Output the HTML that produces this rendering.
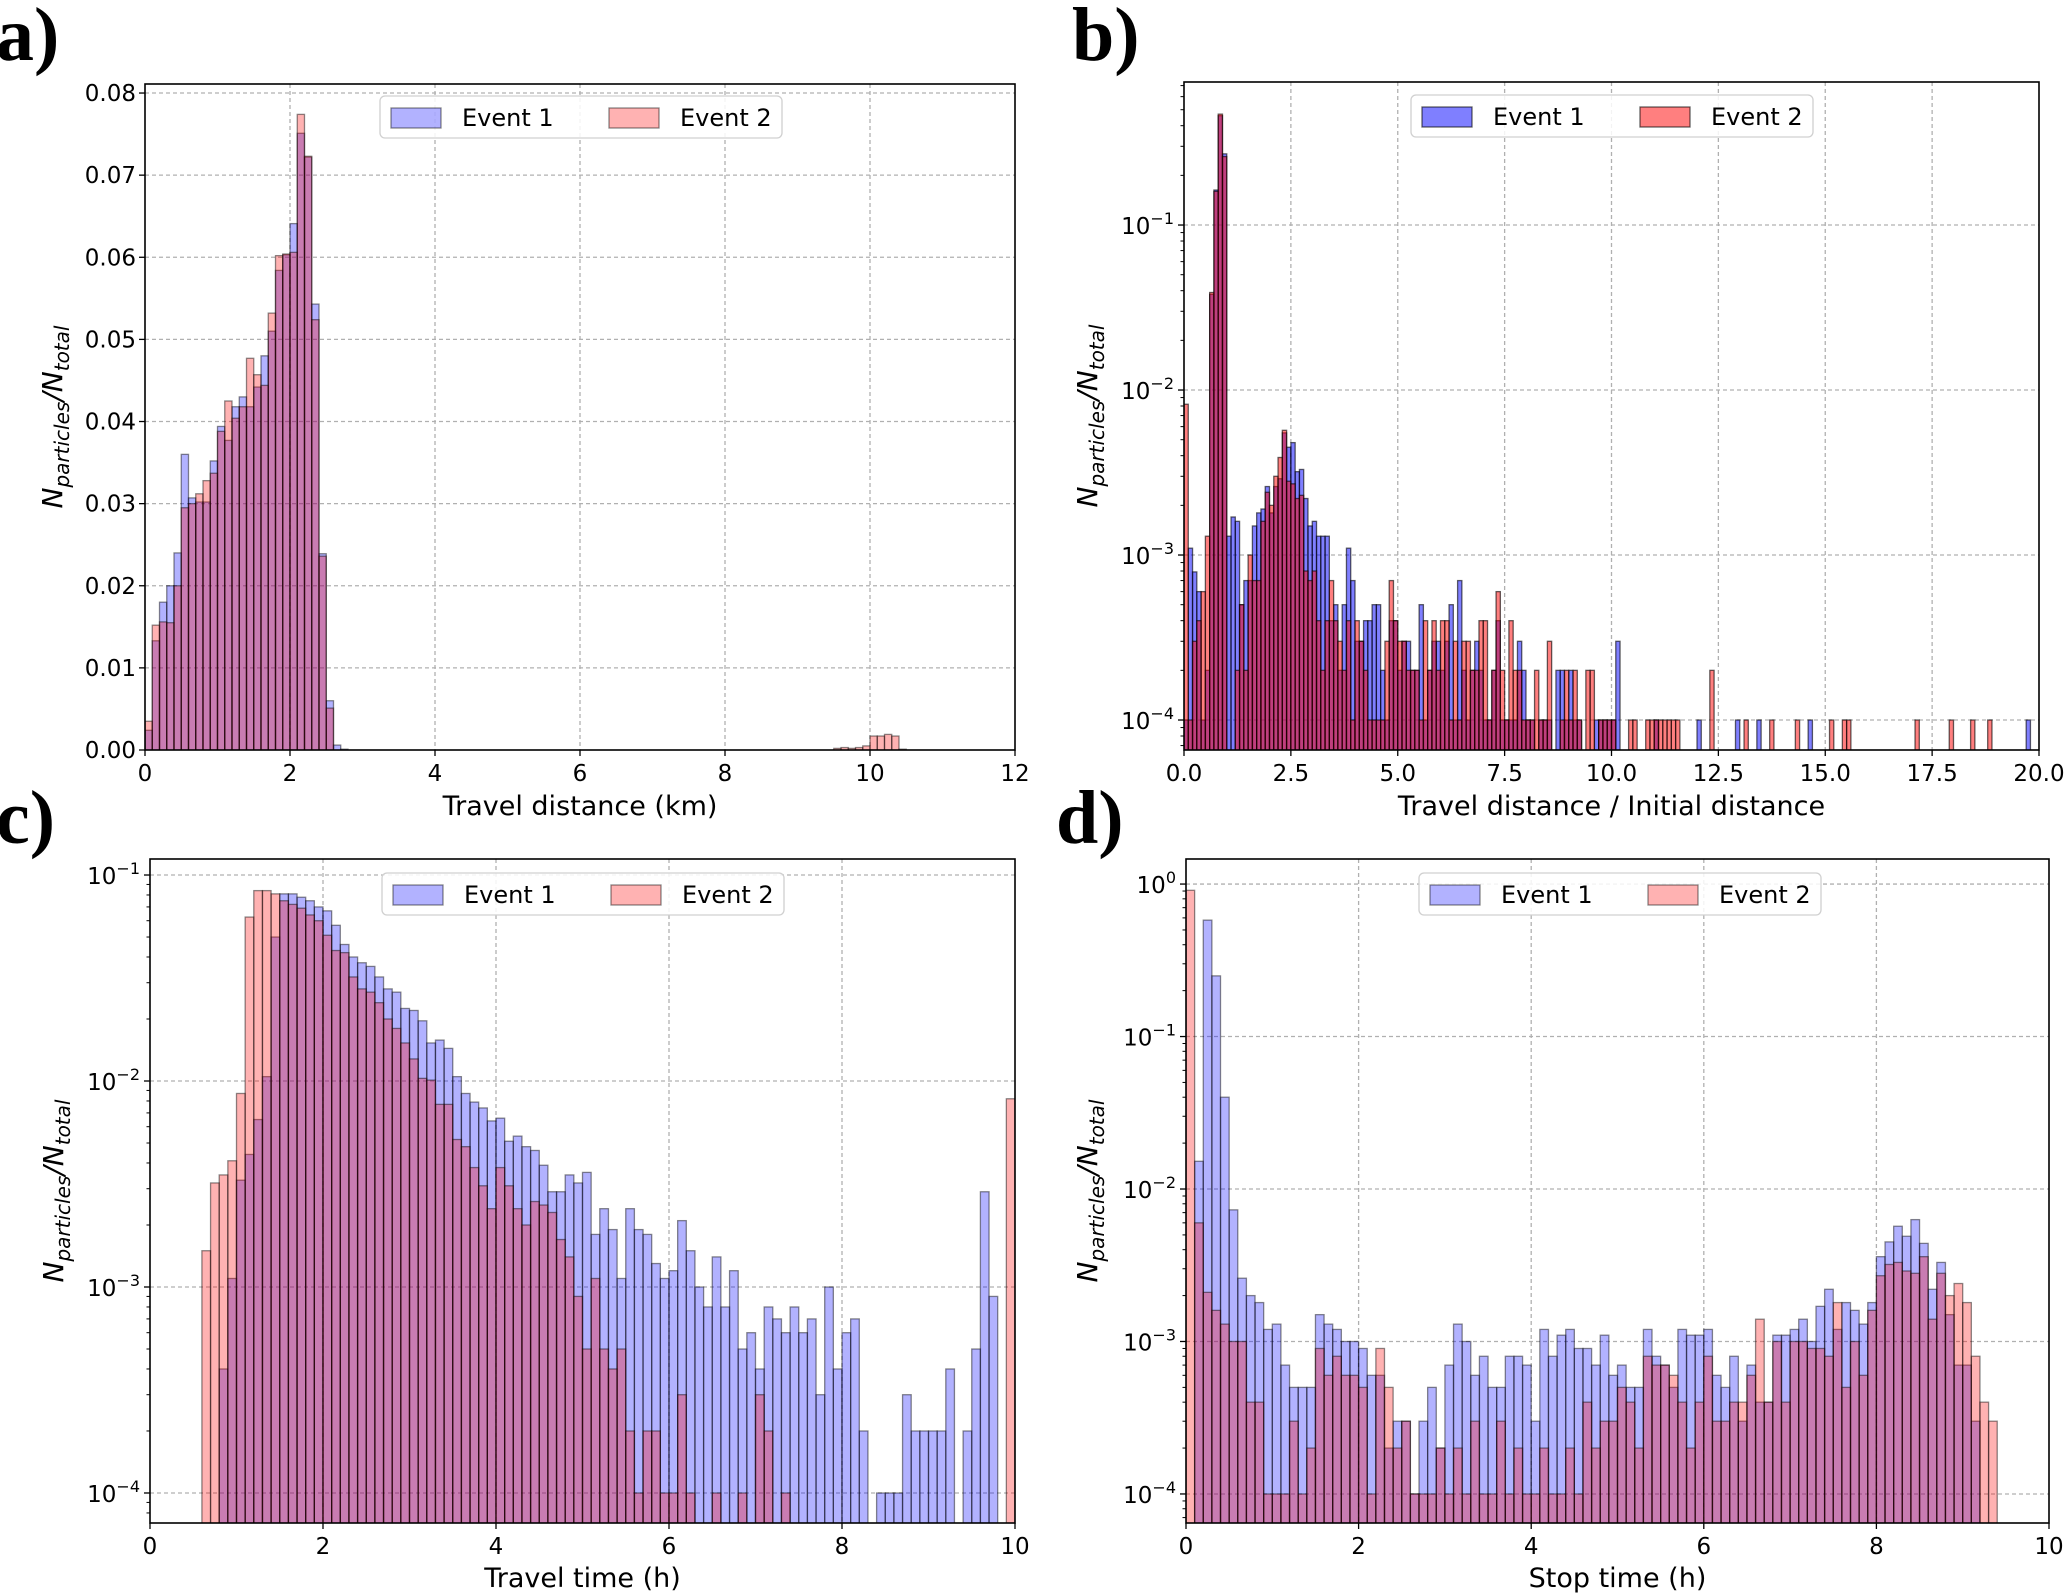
<!DOCTYPE html>
<html><head><meta charset="utf-8"><style>
html,body{margin:0;padding:0;background:#fff;}
svg{display:block;font-family:"DejaVu Sans","Liberation Sans",sans-serif;}
</style></head><body>
<svg id="fig" xmlns="http://www.w3.org/2000/svg" width="2067" height="1596" viewBox="0 0 2067 1596">
<text x="-4" y="60" font-family="Liberation Serif,serif" font-weight="bold" font-size="76">a)</text>
<text x="1072" y="60" font-family="Liberation Serif,serif" font-weight="bold" font-size="76">b)</text>
<text x="-4" y="843" font-family="Liberation Serif,serif" font-weight="bold" font-size="76">c)</text>
<text x="1056" y="843" font-family="Liberation Serif,serif" font-weight="bold" font-size="76">d)</text>
</svg>
<script>
// ---------- Panel a: travel distance (km), bins 0.1 km ----------
const aEvent1 = [0.0024,0.0133,0.018,0.020,0.024,0.036,0.0307,0.0302,0.0302,0.0352,
0.0394,0.0377,0.0418,0.043,0.0418,0.0442,0.048,0.051,0.0584,0.0603,
0.0641,0.0751,0.0722,0.0543,0.0239,0.006,0.0006,0.0001];
const aEvent2 = [0.0035,0.0152,0.0156,0.0155,0.020,0.0295,0.030,0.0312,0.0328,0.0337,
0.0388,0.0425,0.0404,0.0418,0.0477,0.0457,0.0444,0.0532,0.0602,0.0604,
0.0606,0.0774,0.0723,0.0524,0.0236,0.0051,0,0,0,0,
0,0,0,0,0,0,0,0,0,0, 0,0,0,0,0,0,0,0,0,0,
0,0,0,0,0,0,0,0,0,0, 0,0,0,0,0,0,0,0,0,0,
0,0,0,0,0,0,0,0,0,0, 0,0,0,0,0,0,0,0,0,0,
0,0,0,0,0,0.0002,0.0003,0.0002,0.0003,0.0005,
0.0017,0.0017,0.0019,0.0017,0.0001];
const aXTicks = [0,2,4,6,8,10,12];
const aXTickLabels = ["0","2","4","6","8","10","12"];
const aYTicks = [0,0.01,0.02,0.03,0.04,0.05,0.06,0.07,0.08];
const aYTickLabels = ["0.00","0.01","0.02","0.03","0.04","0.05","0.06","0.07","0.08"];

// ---------- Panel b: travel distance / initial distance, bins 0.1 ----------
const bEvent1 = [
1e-4,1.1e-3,7.9e-4,6e-4,1e-4,2e-4,0.038,0.163,0.46,0.27,
1.3e-3,1.7e-3,1.6e-3,5e-4,7e-4,7e-4,1.5e-3,1.8e-3,1.9e-3,2.6e-3,
1.8e-3,2.6e-3,2.9e-3,5.5e-3,4.5e-3,4.8e-3,3.2e-3,3.3e-3,2.2e-3,1.5e-3,
1.6e-3,1.3e-3,1.3e-3,1.3e-3,4e-4,5e-4,2e-4,5e-4,1.1e-3,7e-4,
3e-4,3e-4,4e-4,4e-4,5e-4,5e-4,2e-4,1e-4,4e-4,4e-4,
2e-4,3e-4,3e-4,2e-4,2e-4,5e-4,1e-4,2e-4,3e-4,3e-4,
2e-4,3e-4,5e-4,1e-4,7e-4,2e-4,1e-4,2e-4,3e-4,2e-4,
1e-4,1e-4,2e-4,4e-4,1e-4,1e-4,1e-4,1e-4,3e-4,2e-4,
1e-4,1e-4,0,1e-4,1e-4,1e-4,0,2e-4,2e-4,1e-4,
2e-4,1e-4,1e-4,0,0,0,1e-4,1e-4,1e-4,1e-4,
1e-4,3e-4,0,0,0,0,0,0,0,0,
1e-4,0,0,0,0,0,0,0,0,0,
1e-4,0,0,0,0,0,0,0,0,1e-4,
0,0,0,0,1e-4,0,0,0,0,0,
0,0,0,0,0,0,1e-4,0,0,0,
0,0,0,0,0,0,0,0,0,0,
0,0,0,0,0,0,0,0,0,0,
0,0,0,0,0,0,0,0,0,0,
0,0,0,0,0,0,0,0,0,0,
0,0,0,0,0,0,0,1e-4,0,0];
const bEvent2 = [
8.2e-3,1e-4,3e-4,4e-4,6e-4,1.3e-3,0.039,0.16,0.47,0.26,
0,0,2e-4,5e-4,2e-4,1e-3,7e-4,7e-4,1.6e-3,2.4e-3,
2e-3,3e-3,3.9e-3,5.7e-3,2.8e-3,2.7e-3,2.2e-3,2.3e-3,8e-4,7e-4,
8e-4,4e-4,2e-4,4e-4,7e-4,4e-4,3e-4,2e-4,4e-4,1e-4,
4e-4,3e-4,2e-4,1e-4,1e-4,1e-4,1e-4,3e-4,7e-4,4e-4,
3e-4,3e-4,2e-4,2e-4,2e-4,1e-4,4e-4,2e-4,4e-4,2e-4,
4e-4,4e-4,1e-4,3e-4,1e-4,3e-4,3e-4,2e-4,2e-4,4e-4,
4e-4,1e-4,2e-4,6e-4,2e-4,1e-4,4e-4,2e-4,2e-4,1e-4,
1e-4,1e-4,2e-4,1e-4,1e-4,3e-4,0,0,1e-4,2e-4,
1e-4,2e-4,1e-4,0,2e-4,2e-4,0,1e-4,1e-4,1e-4,
1e-4,0,0,0,1e-4,1e-4,0,0,1e-4,1e-4,
1e-4,1e-4,1e-4,1e-4,1e-4,1e-4,0,0,0,0,
0,0,0,2e-4,0,0,0,0,0,0,
0,1e-4,0,0,0,0,0,1e-4,0,0,
0,0,0,1e-4,0,0,0,0,0,0,
0,1e-4,0,0,1e-4,1e-4,0,0,0,0,
0,0,0,0,0,0,0,0,0,0,
0,1e-4,0,0,0,0,0,0,0,1e-4,
0,0,0,0,1e-4,0,0,0,1e-4,0,
0,0,0,0,0,0,0,0,0,0];
const bXTicks = [0,2.5,5,7.5,10,12.5,15,17.5,20];
const bXTickLabels = ["0.0","2.5","5.0","7.5","10.0","12.5","15.0","17.5","20.0"];
const bYTicks = [1e-4,1e-3,1e-2,1e-1];
const bYTickExp = ["−4","−3","−2","−1"];

// ---------- Panel c: travel time (h), bins 0.1 h ----------
const cEvent1 = [0,0,0,0,0,0,0,0,4e-4,1.1e-3,
3.3e-3,4.4e-3,6.5e-3,0.0105,0.05,0.081,0.081,0.078,0.075,0.07,
0.067,0.057,0.046,0.04,0.0375,0.036,0.032,0.028,0.027,0.0225,
0.022,0.0196,0.0153,0.0158,0.0144,0.0105,0.0087,0.0079,0.0074,0.0064,
0.0066,0.0051,0.0054,0.0048,0.0046,0.0039,0.0029,0.0029,0.0035,0.0032,
0.0036,0.0018,0.0024,0.0019,0.0011,0.0024,0.0019,0.0018,0.0013,0.0011,
0.0012,0.0021,0.0015,0.001,0.0008,0.0014,0.0008,0.0012,0.0005,0.0006,
0.0004,0.0008,0.0007,0.0006,0.0008,0.0006,0.0007,0.0003,0.001,0.0004,
0.0006,0.0007,0.0002,0,1e-4,1e-4,1e-4,3e-4,2e-4,2e-4,
2e-4,2e-4,4e-4,0,2e-4,5e-4,2.9e-3,9e-4,0,0];
const cEvent2 = [0,0,0,0,0,0,1.5e-3,3.2e-3,3.5e-3,4.1e-3,
8.7e-3,0.0625,0.084,0.084,0.081,0.075,0.072,0.069,0.064,0.06,
0.051,0.043,0.042,0.032,0.028,0.027,0.024,0.020,0.018,0.0153,
0.0128,0.0103,0.0101,0.0077,0.0077,0.0052,0.0048,0.0038,0.0031,0.0024,
0.0038,0.0031,0.0024,0.002,0.0026,0.0025,0.0023,0.0017,0.0014,0.0009,
5e-4,1.1e-3,5e-4,4e-4,5e-4,2e-4,1e-4,2e-4,2e-4,1e-4,
1e-4,3e-4,1e-4,0,0,1e-4,0,0,1e-4,0,
3e-4,2e-4,0,1e-4,0,0,0,0,0,0,
0,0,0,0,0,0,0,0,0,0,
0,0,0,0,0,0,0,0,0,8.2e-3];
const cXTicks = [0,2,4,6,8,10];
const cXTickLabels = ["0","2","4","6","8","10"];
const cYTicks = [1e-4,1e-3,1e-2,1e-1];
const cYTickExp = ["−4","−3","−2","−1"];

// ---------- Panel d: stop time (h), bins 0.1 h ----------
const dEvent1 = [0,0.0152,0.58,0.25,0.04,7.3e-3,2.6e-3,2e-3,1.8e-3,1.2e-3,
1.3e-3,7e-4,5e-4,5e-4,5e-4,1.5e-3,1.3e-3,1.2e-3,1e-3,1e-3,
9e-4,6e-4,6e-4,2e-4,3e-4,3e-4,1e-4,3e-4,5e-4,2e-4,
7e-4,1.3e-3,1e-3,6e-4,8e-4,5e-4,5e-4,8e-4,8e-4,7e-4,
3e-4,1.2e-3,8e-4,1.1e-3,1.2e-3,9e-4,9e-4,7e-4,1.1e-3,6e-4,
7e-4,5e-4,5e-4,1.2e-3,8e-4,7e-4,5e-4,1.2e-3,1.1e-3,1.1e-3,
1.2e-3,6e-4,5e-4,8e-4,3e-4,7e-4,4e-4,4e-4,1.1e-3,1.1e-3,
1.2e-3,1.4e-3,1e-3,1.7e-3,2.2e-3,1.2e-3,1.8e-3,1.6e-3,1.3e-3,1.8e-3,
3.6e-3,4.5e-3,5.7e-3,4.9e-3,6.3e-3,4.4e-3,2.2e-3,3.3e-3,1.5e-3,7e-4,
7e-4,3e-4,0,0,0,0,0,0,0,0];
const dEvent2 = [0.91,6e-3,2.1e-3,1.6e-3,1.3e-3,1e-3,1e-3,4e-4,4e-4,1e-4,
1e-4,1e-4,3e-4,1e-4,2e-4,9e-4,6e-4,8e-4,6e-4,6e-4,
5e-4,1e-4,9e-4,5e-4,2e-4,3e-4,1e-4,1e-4,1e-4,2e-4,
1e-4,2e-4,1e-4,3e-4,1e-4,1e-4,3e-4,1e-4,2e-4,1e-4,
1e-4,2e-4,1e-4,1e-4,2e-4,1e-4,4e-4,2e-4,3e-4,3e-4,
5e-4,4e-4,2e-4,8e-4,7e-4,7e-4,6e-4,4e-4,2e-4,4e-4,
8e-4,3e-4,3e-4,4e-4,4e-4,6e-4,1.4e-3,4e-4,1e-3,4e-4,
1e-3,1e-3,9e-4,9e-4,8e-4,1.8e-3,5e-4,1e-3,6e-4,1.6e-3,
2.7e-3,3.2e-3,3.3e-3,2.9e-3,2.8e-3,3.6e-3,1.4e-3,2.8e-3,2e-3,2.4e-3,
1.8e-3,8e-4,4e-4,3e-4,0,0,0,0,0,0];
const dXTicks = [0,2,4,6,8,10];
const dXTickLabels = ["0","2","4","6","8","10"];
const dYTicks = [1e-4,1e-3,1e-2,1e-1,1];
const dYTickExp = ["−4","−3","−2","−1","0"];

const NS = "http://www.w3.org/2000/svg";
const svg = document.getElementById("fig");
function mk(parent, tag, attrs, txt){
  const e = document.createElementNS(NS, tag);
  for (const k in attrs) e.setAttribute(k, attrs[k]);
  if (txt !== undefined) e.textContent = txt;
  parent.appendChild(e);
  return e;
}

function drawPanel(p){
  const g = mk(svg, "g", {});
  
  
  const W = p.right - p.left, H = p.bottom - p.top;
  const xs = v => p.left + (v - p.xmin) / (p.xmax - p.xmin) * W;
  const ys = p.log
    ? v => p.bottom - (Math.log10(v) - Math.log10(p.ymin)) / (Math.log10(p.ymax) - Math.log10(p.ymin)) * H
    : v => p.bottom - (v - p.ymin) / (p.ymax - p.ymin) * H;
  const clipId = p.name + "-clip";
  const defs = mk(g, "defs", {});
  const cp = mk(defs, "clipPath", {id: clipId});
  mk(cp, "rect", {x: p.left, y: p.top, width: W, height: H});
  // grid
  const grid = mk(g, "g", {stroke: "#b0b0b0", "stroke-width": 1.3, "stroke-dasharray": "4,3"});
  
  
  p.xticks.forEach(t => { const x = xs(t); if (x > p.left + 1 && x < p.right - 1) {
    const l = mk(grid, "line", {x1: x, x2: x, y1: p.top, y2: p.bottom});
    
    
  }});
  p.yticks.forEach(t => { const y = ys(t); if (y > p.top && y < p.bottom - 1) {
    const l = mk(grid, "line", {x1: p.left, x2: p.right, y1: y, y2: y});
    
    
  }});
  // bars
  const bars = mk(g, "g", {"clip-path": "url(#" + clipId + ")"});
  
  
  const series = [[p.e1, "rgb(0,0,255)", "event1"], [p.e2, "rgb(255,0,0)", "event2"]];
  series.forEach(([vals, col, nm]) => {
    vals.forEach((v, i) => {
      if (!(v > 0)) return;
      const x0 = xs(p.binStart + i * p.binW), x1 = xs(p.binStart + (i + 1) * p.binW);
      const y = Math.max(ys(v), p.top - 5);
      const r = mk(bars, "rect", {x: x0, y: y, width: x1 - x0, height: p.bottom - y + 5,
        fill: col, "fill-opacity": p.alpha, stroke: "#000", "stroke-opacity": p.edgeOp, "stroke-width": 1.3});
      
      
    });
  });
  // axes frame
  const fr = mk(g, "rect", {x: p.left, y: p.top, width: W, height: H, fill: "none", stroke: "#000", "stroke-width": 1.6});
  
  
  // x ticks
  p.xticks.forEach((t, i) => {
    const x = xs(t);
    const tk = mk(g, "line", {x1: x, x2: x, y1: p.bottom, y2: p.bottom + 6, stroke: "#000", "stroke-width": 1.3});
    
    
    const lb = mk(g, "text", {x: x, y: p.bottom + 31, "font-size": 23, "text-anchor": "middle"}, p.xlabels[i]);
    
    
  });
  // y ticks
  p.yticks.forEach((t, i) => {
    const y = ys(t);
    const tk = mk(g, "line", {x1: p.left - 6, x2: p.left, y1: y, y2: y, stroke: "#000", "stroke-width": 1.3});
    
    
    let lb;
    if (p.log) {
      lb = mk(g, "text", {x: p.left - 10, y: y + 9, "font-size": 23, "text-anchor": "end"});
      const a = mk(lb, "tspan", {}, "10");
      const b = mk(lb, "tspan", {dy: -10, "font-size": 16}, p.yexp[i]);
    } else {
      lb = mk(g, "text", {x: p.left - 9, y: y + 8, "font-size": 23, "text-anchor": "end"}, p.ylabels[i]);
    }
    
    
  });
  if (p.log) {
    const lo = Math.floor(Math.log10(p.ymin)), hi = Math.ceil(Math.log10(p.ymax));
    for (let d = lo; d < hi; d++) for (let m = 2; m <= 9; m++) {
      const v = m * Math.pow(10, d);
      if (v < p.ymin || v > p.ymax) continue;
      const y = ys(v);
      const mt = mk(g, "line", {x1: p.left - 3.5, x2: p.left, y1: y, y2: y, stroke: "#000", "stroke-width": 1});
      
      
    }
  }
  // axis titles
  const xt = mk(g, "text", {x: (p.left + p.right) / 2 + p.xlabDx, y: p.xlabY, "font-size": 27, "text-anchor": "middle"}, p.xtitle);
  
  
  const yc = (p.top + p.bottom) / 2;
  const yt = mk(g, "text", {transform: "translate(" + p.ylabX + "," + yc + ") rotate(-90)", "font-size": 28, "text-anchor": "middle", "font-style": "italic"});
  mk(yt, "tspan", {}, "N");
  mk(yt, "tspan", {dy: 7, "font-size": 20}, "particles");
  mk(yt, "tspan", {dy: -7}, "/N");
  mk(yt, "tspan", {dy: 7, "font-size": 20}, "total");
  
  
  // legend
  const L = p.legend;
  const lg = mk(g, "g", {});
  
  
  mk(lg, "rect", {x: L.x, y: L.y, width: 402, height: 42, rx: 5, fill: "#fff", "fill-opacity": 0.85, stroke: "#d0d0d0", "stroke-width": 1.3});
  [["Event 1", "rgb(0,0,255)", 0], ["Event 2", "rgb(255,0,0)", 218]].forEach(([t, c, dx]) => {
    const e = mk(lg, "g", {});
    
    
    mk(e, "rect", {x: L.x + 11 + dx, y: L.y + 12, width: 50, height: 20, fill: c, "fill-opacity": p.alpha, stroke: "#000", "stroke-opacity": p.edgeOp, "stroke-width": 1.3});
    mk(e, "text", {x: L.x + 82 + dx, y: L.y + 30, "font-size": 24}, t);
  });
}

drawPanel({name: "panel-a", left: 145, right: 1015, top: 84, bottom: 750,
  xmin: 0, xmax: 12, log: false, ymin: 0, ymax: 0.0811,
  e1: aEvent1, e2: aEvent2, binStart: 0, binW: 0.1, alpha: 0.3, edgeOp: 0.45,
  xticks: aXTicks, xlabels: aXTickLabels, yticks: aYTicks, ylabels: aYTickLabels,
  xtitle: "Travel distance (km)", xlabDx: 0, xlabY: 815, ylabX: 62,
  legend: {x: 380, y: 96}});
drawPanel({name: "panel-b", left: 1184, right: 2039, top: 82, bottom: 750,
  xmin: 0, xmax: 20, log: true, ymin: 6.58e-5, ymax: 0.736,
  e1: bEvent1, e2: bEvent2, binStart: 0, binW: 0.1, alpha: 0.5, edgeOp: 0.6,
  xticks: bXTicks, xlabels: bXTickLabels, yticks: bYTicks, yexp: bYTickExp,
  xtitle: "Travel distance / Initial distance", xlabDx: 0, xlabY: 815, ylabX: 1097,
  legend: {x: 1411, y: 95}});
drawPanel({name: "panel-c", left: 150, right: 1015, top: 859, bottom: 1523,
  xmin: 0, xmax: 10, log: true, ymin: 7.15e-5, ymax: 0.1196,
  e1: cEvent1, e2: cEvent2, binStart: 0, binW: 0.1, alpha: 0.3, edgeOp: 0.45,
  xticks: cXTicks, xlabels: cXTickLabels, yticks: cYTicks, yexp: cYTickExp,
  xtitle: "Travel time (h)", xlabDx: 0, xlabY: 1587, ylabX: 63,
  legend: {x: 382, y: 873}});
drawPanel({name: "panel-d", left: 1186, right: 2049, top: 859, bottom: 1523,
  xmin: 0, xmax: 10, log: true, ymin: 6.45e-5, ymax: 1.46,
  e1: dEvent1, e2: dEvent2, binStart: 0, binW: 0.1, alpha: 0.3, edgeOp: 0.45,
  xticks: dXTicks, xlabels: dXTickLabels, yticks: dYTicks, yexp: dYTickExp,
  xtitle: "Stop time (h)", xlabDx: 0, xlabY: 1587, ylabX: 1097,
  legend: {x: 1419, y: 873}});
</script>
</body></html>
